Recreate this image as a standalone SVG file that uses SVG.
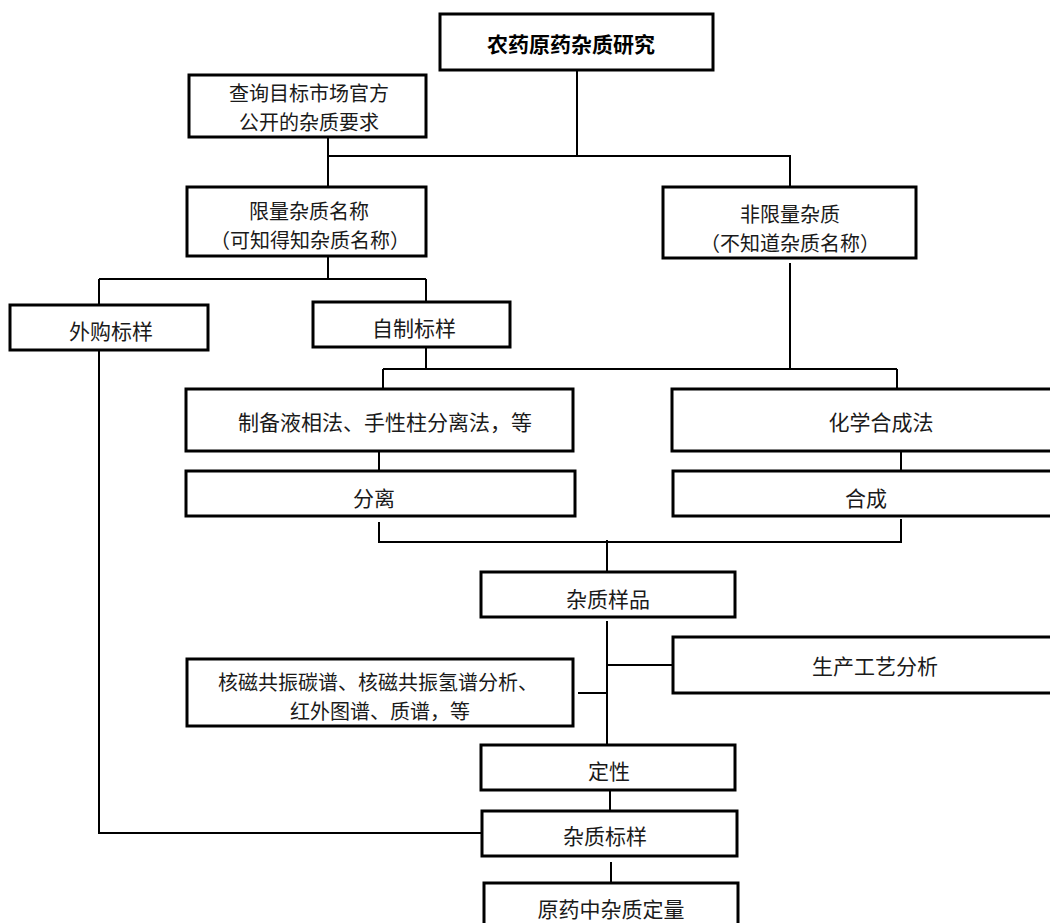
<svg xmlns="http://www.w3.org/2000/svg" width="1050" height="923" viewBox="0 0 1050 923">
<style>
.box{fill:#fff;stroke:#000;stroke-width:3}
.t{font-family:"Noto Sans CJK SC","Noto Sans CJK JP",sans-serif;font-size:21px;fill:#1a1a1a;text-anchor:middle;dominant-baseline:central}
.m{font-size:20px}
.b{font-weight:bold;fill:#000}
.c{fill:none;stroke:#000;stroke-width:2}
</style>
<rect width="1050" height="923" fill="#fff"/>
<g id="connectors">
<path class="c" d="M577 70V156M328 137V187M328 156H790V187"/>
<path class="c" d="M328 256V279M99 279H426M99 279V305M426 279V302"/>
<path class="c" d="M790 263V369M426 348V369M383 369H897M383 369V389M897 369V389"/>
<path class="c" d="M379 451V471M901 451V471"/>
<path class="c" d="M379 522V542H901V519M607 540V572"/>
<path class="c" d="M607 621V745M607 665H673M578 693H607"/>
<path class="c" d="M610 790V811M611 862V883"/>
<path class="c" d="M99 350V833H482"/>
</g>
<g id="n1"><rect class="box" x="440" y="14" width="273" height="56"/><text class="t b" x="571" y="43">农药原药杂质研究</text></g>
<g id="n2"><rect class="box" x="189" y="75" width="237" height="62"/><text class="t m" x="309" y="92">查询目标市场官方</text><text class="t m" x="309" y="121">公开的杂质要求</text></g>
<g id="n3"><rect class="box" x="187" y="187" width="239" height="69"/><text class="t m" x="309" y="210">限量杂质名称</text><text class="t m" x="310" y="239">（可知得知杂质名称）</text></g>
<g id="n4"><rect class="box" x="663" y="187" width="253" height="71"/><text class="t m" x="790" y="213">非限量杂质</text><text class="t m" x="790" y="242">（不知道杂质名称）</text></g>
<g id="n5"><rect class="box" x="10" y="305" width="198" height="45"/><text class="t" x="111" y="330">外购标样</text></g>
<g id="n6"><rect class="box" x="313" y="302" width="197" height="45"/><text class="t" x="414" y="327">自制标样</text></g>
<g id="n7"><rect class="box" x="186" y="389" width="387" height="62"/><text class="t" x="385" y="421">制备液相法、手性柱分离法，等</text></g>
<g id="n8"><rect class="box" x="672" y="389" width="390" height="62"/><text class="t" x="881" y="421">化学合成法</text></g>
<g id="n9"><rect class="box" x="186" y="471" width="389" height="45"/><text class="t" x="374" y="497">分离</text></g>
<g id="n10"><rect class="box" x="673" y="471" width="390" height="45"/><text class="t" x="866" y="497">合成</text></g>
<g id="n11"><rect class="box" x="481" y="572" width="254" height="45"/><text class="t" x="608" y="598">杂质样品</text></g>
<g id="n12"><rect class="box" x="673" y="637" width="390" height="56"/><text class="t" x="875" y="665">生产工艺分析</text></g>
<g id="n13"><rect class="box" x="187" y="659" width="386" height="67"/><text class="t m" x="378" y="681">核磁共振碳谱、核磁共振氢谱分析、</text><text class="t m" x="380" y="710">红外图谱、质谱，等</text></g>
<g id="n14"><rect class="box" x="481" y="745" width="254" height="45"/><text class="t" x="609" y="770">定性</text></g>
<g id="n15"><rect class="box" x="482" y="811" width="255" height="45"/><text class="t" x="605" y="835">杂质标样</text></g>
<g id="n16"><rect class="box" x="484" y="883" width="254" height="50"/><text class="t" x="611" y="908">原药中杂质定量</text></g>
</svg>
